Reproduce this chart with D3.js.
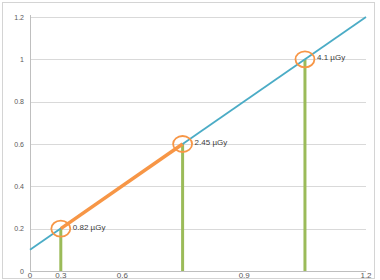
<!DOCTYPE html>
<html>
<head>
<meta charset="utf-8">
<script src="https://cdn.jsdelivr.net/npm/d3@7"></script>
<style>
  body { margin: 0; background: #fff; }
  text { font-family: "Liberation Sans", Arial, sans-serif; }
</style>
</head>
<body>
<script>
// chart values
var yTicks = [0, 0.2, 0.4, 0.6, 0.8, 1, 1.2];
var xTickPos = [0, 0.11, 0.33, 0.765, 1.2];
var xTickLabels = ["0", "0.3", "0.6", "0.9", "1.2"];
var lineX = [0, 1.2];
var lineY = [0.1, 1.2];
var pointX = [0.11, 0.545, 0.982];
var pointY = [0.2, 0.6, 1.0];
var pointLabels = ["0.82 \u00b5Gy", "2.45 \u00b5Gy", "4.1 \u00b5Gy"];

var w = 380, h = 280;

var svg = d3.select("body")
  .append("svg")
  .attr("width", w)
  .attr("height", h);

// outer frame
svg.append("rect")
  .attr("x", 2.5).attr("y", 2.5)
  .attr("width", 372).attr("height", 276)
  .attr("fill", "#fff")
  .attr("stroke", "#d4d4d4");

var x = d3.scaleLinear().domain([0, 1.2]).range([30, 366]);
var y = d3.scaleLinear().domain([0, 1.2]).range([271, 17]);

// gridlines
svg.append("g")
  .selectAll("line")
  .data(yTicks.slice(1))
  .enter()
  .append("line")
  .attr("x1", x(0)).attr("x2", x(1.2))
  .attr("y1", d => Math.round(y(d)) + 0.5)
  .attr("y2", d => Math.round(y(d)) + 0.5)
  .attr("stroke", "#d9d9d9");

// axes lines
svg.append("line")
  .attr("x1", x(0) + 0.5).attr("x2", x(0) + 0.5)
  .attr("y1", y(1.2) - 2).attr("y2", y(0))
  .attr("stroke", "#bfbfbf");
svg.append("line")
  .attr("x1", x(0)).attr("x2", x(1.2))
  .attr("y1", Math.round(y(0)) + 0.5).attr("y2", Math.round(y(0)) + 0.5)
  .attr("stroke", "#bfbfbf");

// y tick labels
svg.append("g")
  .selectAll("text")
  .data(yTicks)
  .enter()
  .append("text")
  .attr("x", 24)
  .attr("y", d => y(d) + 2.5)
  .attr("text-anchor", "end")
  .attr("font-size", 7)
  .attr("fill", "#595959")
  .text(d => d);

// x tick labels
svg.append("g")
  .selectAll("text")
  .data(xTickPos)
  .enter()
  .append("text")
  .attr("x", d => x(d))
  .attr("y", 278)
  .attr("text-anchor", "middle")
  .attr("font-size", 8)
  .attr("fill", "#595959")
  .text((d, i) => xTickLabels[i]);

// green drop lines
svg.append("g")
  .selectAll("line")
  .data(pointX)
  .enter()
  .append("line")
  .attr("x1", d => x(d)).attr("x2", d => x(d))
  .attr("y1", y(0)).attr("y2", (d, i) => y(pointY[i]))
  .attr("stroke", "#9bbb59")
  .attr("stroke-width", 3);

// blue line
svg.append("line")
  .attr("x1", x(lineX[0])).attr("y1", y(lineY[0]))
  .attr("x2", x(lineX[1])).attr("y2", y(lineY[1]))
  .attr("stroke", "#4bacc6")
  .attr("stroke-width", 1.8);

// orange segment between first two points
svg.append("line")
  .attr("x1", x(pointX[0])).attr("y1", y(pointY[0]))
  .attr("x2", x(pointX[1])).attr("y2", y(pointY[1]))
  .attr("stroke", "#f79646")
  .attr("stroke-width", 3.5);

// orange circles
svg.append("g")
  .selectAll("ellipse")
  .data(pointX)
  .enter()
  .append("ellipse")
  .attr("cx", d => x(d))
  .attr("cy", (d, i) => y(pointY[i]))
  .attr("rx", 9.5).attr("ry", 8)
  .attr("fill", "none")
  .attr("stroke", "#f79646")
  .attr("stroke-width", 1.8);

// point labels
svg.append("g")
  .selectAll("text")
  .data(pointLabels)
  .enter()
  .append("text")
  .attr("x", (d, i) => x(pointX[i]) + 12)
  .attr("y", (d, i) => y(pointY[i]) + 1)
  .attr("font-size", 8)
  .attr("fill", "#404040")
  .text(d => d);
</script>
</body>
</html>
